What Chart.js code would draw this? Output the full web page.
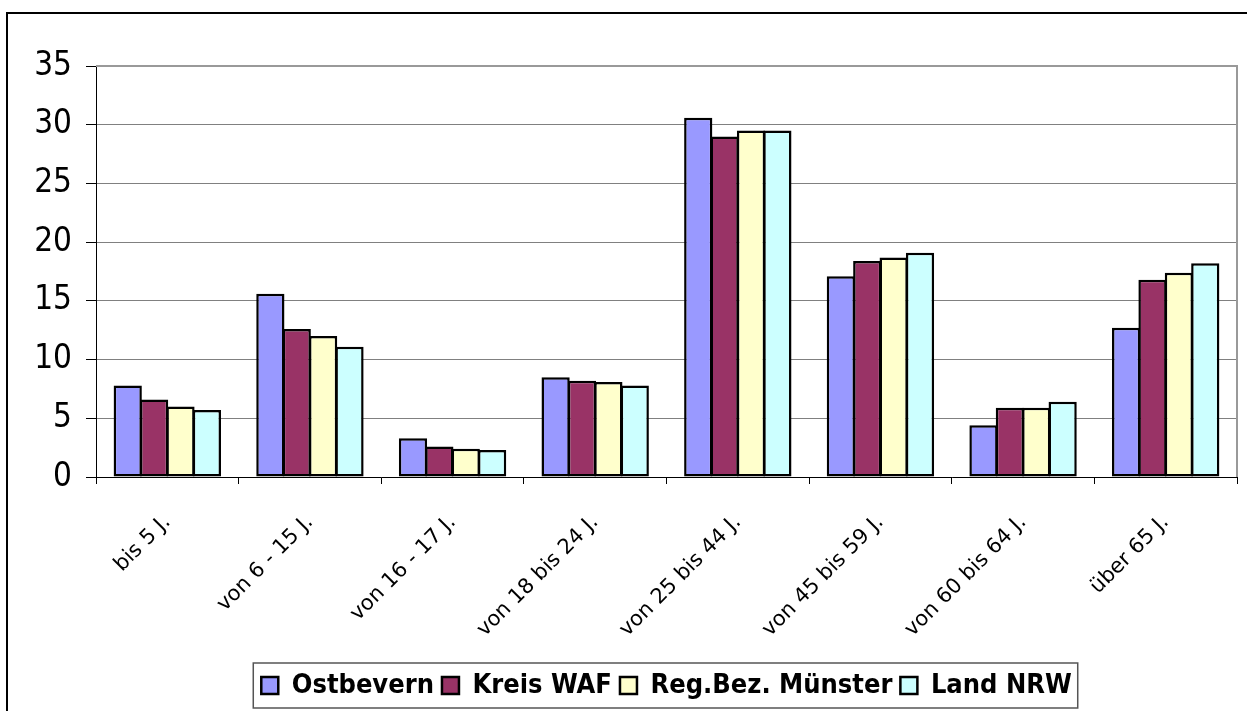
<!DOCTYPE html>
<html>
<head>
<meta charset="utf-8">
<script src="https://cdn.jsdelivr.net/npm/chart.js@4"></script>
<style>
  html, body { margin: 0; padding: 0; background: #fff; }
  #wrap { width: 1247px; height: 711px; }
</style>
</head>
<body>
<div id="wrap"><canvas id="chart" width="1247" height="711"></canvas></div>
<script>
// Altersgruppen
const ageGroups = ["bis 5 J.", "von 6 - 15 J.", "von 16 - 17 J.", "von 18 bis 24 J.",
  "von 25 bis 44 J.", "von 45 bis 59 J.", "von 60 bis 64 J.", "über 65 J."];

// Anteile in Prozent
const ostbevern = [7.8, 15.6, 3.3, 8.5, 30.6, 17.1, 4.4, 12.7];
const kreisWaf  = [6.6, 12.6, 2.6, 8.2, 29.0, 18.4, 5.9, 16.8];
const regBezMs  = [6.0, 12.0, 2.4, 8.1, 29.5, 18.7, 5.9, 17.4];
const landNrw   = [5.7, 11.1, 2.3, 7.8, 29.5, 19.1, 6.4, 18.2];

const seriesNames = ["Ostbevern", "Kreis WAF", "Reg.Bez. Münster", "Land NRW"];
const seriesColors = ["#9999FF", "#993366", "#FFFFCC", "#CCFFFF"];
const yTicks = [0, 5, 10, 15, 20, 25, 30, 35];

// Rahmen um Diagramm, Plotfläche und Legende
const framePlugin = {
  id: "frame",
  beforeDraw(chart) {
    const { ctx } = chart;
    ctx.save();
    ctx.strokeStyle = "#000";
    ctx.lineWidth = 2;
    ctx.beginPath();
    ctx.moveTo(7, 711);
    ctx.lineTo(7, 13);
    ctx.lineTo(1247, 13);
    ctx.stroke();
    ctx.restore();
  },
  afterDraw(chart) {
    const { ctx, chartArea, legend } = chart;
    ctx.save();
    ctx.strokeStyle = "#999";
    ctx.lineWidth = 2;
    ctx.beginPath();
    ctx.moveTo(chartArea.left, chartArea.top);
    ctx.lineTo(chartArea.right, chartArea.top);
    ctx.lineTo(chartArea.right, chartArea.bottom);
    ctx.stroke();
    if (legend && legend.legendHitBoxes && legend.legendHitBoxes.length) {
      const boxes = legend.legendHitBoxes;
      const left = Math.min(...boxes.map(b => b.left)) - 8;
      const right = Math.max(...boxes.map(b => b.left + b.width)) + 6;
      const top = Math.min(...boxes.map(b => b.top)) - 9;
      const bottom = Math.max(...boxes.map(b => b.top + b.height)) + 9;
      ctx.strokeStyle = "#555";
      ctx.lineWidth = 1.5;
      ctx.strokeRect(left, top, right - left, bottom - top);
    }
    ctx.restore();
  }
};

new Chart(document.getElementById("chart"), {
  type: "bar",
  data: {
    labels: ageGroups,
    datasets: [ostbevern, kreisWaf, regBezMs, landNrw].map((values, i) => ({
      label: seriesNames[i],
      data: values,
      backgroundColor: seriesColors[i],
      borderColor: "#000",
      borderWidth: 2.5,
      borderSkipped: false,
      categoryPercentage: 0.74,
      barPercentage: 1.07
    }))
  },
  options: {
    responsive: false,
    animation: false,
    layout: { padding: { left: 8, top: 66, right: 10, bottom: 2 } },
    scales: {
      x: {
        grid: { display: true, drawOnChartArea: false, tickLength: 7, tickColor: "#000", offset: true },
        border: { color: "#000", width: 1 },
        ticks: {
          maxRotation: 45, minRotation: 45,
          padding: 26,
          color: "#000",
          font: { family: "'DejaVu Sans'", size: 21 }
        },
        afterFit(scale) { scale.height = 187; }
      },
      y: {
        min: 0, max: 35,
        afterBuildTicks(scale) { scale.ticks = yTicks.map(v => ({ value: v })); },
        grid: { color: "#808080", lineWidth: 1, tickLength: 10, tickColor: "#000" },
        border: { color: "#000", width: 1 },
        ticks: {
          padding: 14,
          color: "#000",
          font: { family: "'DejaVu Sans Condensed'", size: 33 }
        },
        afterFit(scale) { scale.width = 88; }
      }
    },
    plugins: {
      legend: {
        position: "bottom",
        fullSize: false,
        labels: {
          boxWidth: 17,
          boxHeight: 17,
          padding: 8,
          color: "#000",
          font: { family: "'DejaVu Sans Condensed'", size: 27, weight: "bold" }
        }
      },
      tooltip: { enabled: false }
    }
  },
  plugins: [framePlugin]
});
</script>
</body>
</html>
